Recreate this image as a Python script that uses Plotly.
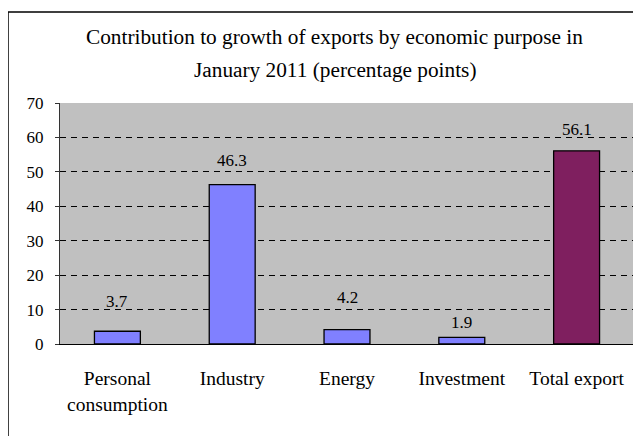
import plotly.graph_objects as go

categories = ["Personal<br>consumption", "Industry", "Energy", "Investment", "Total export"]
values = [3.7, 46.3, 4.2, 1.9, 56.1]
bar_colors = ["#8080FF", "#8080FF", "#8080FF", "#8080FF", "#7F1F5F"]
title_lines = ["Contribution to growth of exports by economic purpose in",
               "January 2011 (percentage points)"]
y_ticks = [0, 10, 20, 30, 40, 50, 60, 70]
# pixel offset of each value label above its bar (style only)
label_offsets = [30, 24, 32, 15, 21]

FONT = "Liberation Serif"

fig = go.Figure()
fig.add_trace(go.Bar(
    x=categories, y=values,
    marker=dict(color=bar_colors, line=dict(color="black", width=1.3)),
    width=0.4,
    hoverinfo="skip",
))

for c, v, off in zip(categories, values, label_offsets):
    fig.add_annotation(x=c, y=v, xref="x", yref="y", text=f"{v}",
                       showarrow=False, yanchor="middle", yshift=off,
                       font=dict(family=FONT, size=17, color="black"))

fig.add_annotation(x=0.479, y=1.0, xref="paper", yref="paper", yanchor="middle",
                   yshift=66, text=title_lines[0], showarrow=False,
                   font=dict(family=FONT, size=21.3, color="black"))
fig.add_annotation(x=0.479, y=1.0, xref="paper", yref="paper", yanchor="middle",
                   yshift=33, text=title_lines[1], showarrow=False,
                   font=dict(family=FONT, size=21.3, color="black"))

fig.update_layout(
    width=633, height=428,
    margin=dict(l=52, r=7, t=95, b=92),
    plot_bgcolor="#C0C0C0",
    paper_bgcolor="white",
    showlegend=False,
    font=dict(family=FONT, size=17, color="black"),
    bargap=0.6,
)

fig.update_xaxes(
    showline=True, linecolor="black", linewidth=1,
    ticks="", showgrid=False, tickfont=dict(family=FONT, size=19.5),
    ticklabelstandoff=17,
)
fig.update_yaxes(
    range=[0, 70], tickvals=y_ticks, showline=True, linecolor="#333333", linewidth=1,
    ticks="outside", ticklen=4, tickcolor="#333333",
    showgrid=True, gridcolor="black", gridwidth=1, griddash="6px,5px",
    zeroline=False, tickfont=dict(family=FONT, size=17),
    ticklabelstandoff=8,
)

fig.add_shape(type="rect", xref="paper", yref="paper",
              x0=-0.0906, x1=1.2, y0=-0.6, y1=1.378,
              line=dict(color="black", width=1.5), fillcolor="rgba(0,0,0,0)",
              layer="below")

fig.write_html("out.html")
